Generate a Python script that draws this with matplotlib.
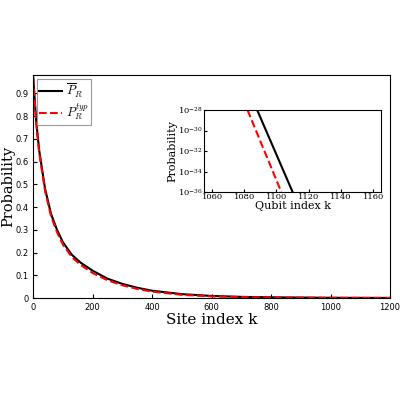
import numpy as np
import matplotlib
matplotlib.use("Agg")
import matplotlib.pyplot as plt

plt.rcParams['mathtext.fontset'] = 'cm'

# main curves
site_k = [0, 10, 20, 40, 60, 80, 100, 130, 160, 200, 250, 300, 350, 400, 500, 600, 700, 800, 1000, 1200]
p_mean = [0.97, 0.78, 0.65, 0.48, 0.37, 0.30, 0.245, 0.19, 0.155, 0.12, 0.085, 0.062, 0.045, 0.032, 0.017, 0.009, 0.005, 0.003, 0.001, 0.0003]
p_typ = [0.97, 0.77, 0.64, 0.47, 0.36, 0.29, 0.235, 0.18, 0.145, 0.11, 0.078, 0.056, 0.040, 0.028, 0.014, 0.007, 0.004, 0.002, 0.0007, 0.0002]

# inset (log scale)
inset_k_mean = [1088, 1110]
inset_p_mean = [1e-28, 1e-36]
inset_k_typ = [1082, 1103]
inset_p_typ = [1e-28, 1e-36]

fig = plt.figure(figsize=(4, 4), dpi=100)
ax = fig.add_axes([0.083, 0.255, 0.892, 0.557])
ax.plot(site_k, p_mean, color='black', lw=1.5, label=r'$\overline{P}_R$')
ax.plot(site_k, p_typ, color='red', lw=1.5, ls='--', label=r'$P_R^{typ}$')
ax.set_xlim(0, 1200)
ax.set_ylim(0, 0.98)
ax.set_yticks(np.arange(0, 1.0, 0.1))
ax.set_yticklabels(['0'] + ['%.1f' % v for v in np.arange(0.1, 1.0, 0.1)])
ax.tick_params(labelsize=6, direction='in', length=3)
ax.set_xlabel('Site index k', family='serif', fontsize=11, labelpad=1)
ax.set_ylabel('Probability', family='serif', fontsize=10.5, labelpad=0)
leg = ax.legend(loc='upper left', fontsize=9, fancybox=False, edgecolor='gray',
                handlelength=1.8, handletextpad=0.3, borderpad=0.2,
                labelspacing=0.2, borderaxespad=0.3)
leg.get_frame().set_linewidth(0.8)

ins = fig.add_axes([0.51, 0.52, 0.443, 0.205])
ins.plot(inset_k_mean, inset_p_mean, color='black', lw=1.5)
ins.plot(inset_k_typ, inset_p_typ, color='red', lw=1.5, ls='--')
ins.set_yscale('log')
ins.set_xlim(1055, 1165)
ins.set_ylim(1e-36, 1e-28)
ins.set_yticks([1e-36, 1e-34, 1e-32, 1e-30, 1e-28])
ins.minorticks_off()
ins.set_xticks([1060, 1080, 1100, 1120, 1140, 1160])
ins.tick_params(labelsize=6, direction='in', length=2, pad=1)
for t in ins.get_xticklabels() + ins.get_yticklabels():
    t.set_family('serif')
ins.set_xlabel('Qubit index k', family='serif', fontsize=8, labelpad=0)
ins.set_ylabel('Probability', family='serif', fontsize=8, labelpad=0)

fig.savefig('out.png', dpi=100)
